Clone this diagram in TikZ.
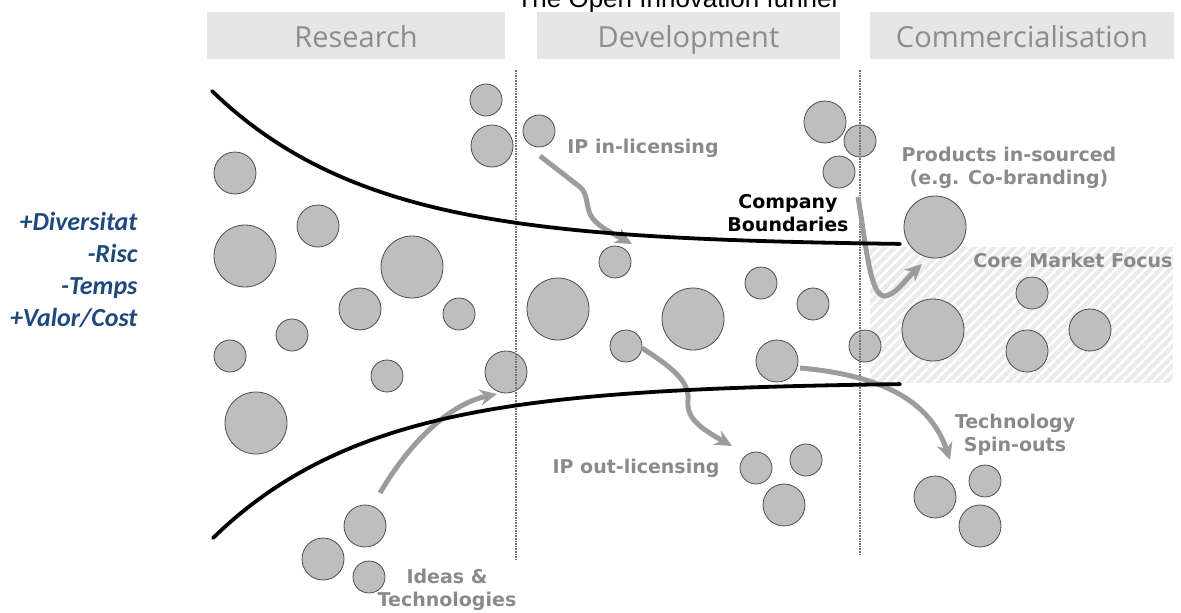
\documentclass[tikz,border=0pt]{standalone}
\usepackage{fontspec}
\setmainfont{DejaVu Sans}
\newfontfamily\headfont{Open Sans}
\newfontfamily\titlefont{Liberation Sans}
\newfontfamily\notefont{Carlito}
\usepackage{xcolor}
\usetikzlibrary{positioning,calc,arrows.meta,patterns.meta}
\definecolor{blobgray}{HTML}{BEBEBE}
\definecolor{labelgray}{HTML}{8A8A8A}
\definecolor{arrowgray}{HTML}{9C9C9C}
\definecolor{headgray}{HTML}{E6E6E6}
\definecolor{noteblue}{HTML}{1F497D}

\begin{document}
\begin{tikzpicture}[x=1pt,y=-1pt,
  blob/.style={circle,fill=blobgray,draw=black!70,line width=0.8pt,inner sep=0pt},
  head/.style={fill=headgray,minimum height=47pt,text height=25pt,text depth=2pt,text=black!45,font=\headfont\fontsize{29}{32}\selectfont},
  lbl/.style={text=labelgray,font=\bfseries\fontsize{19}{23.5}\selectfont,align=center},
  flow/.style={arrowgray,line width=5pt,-{Stealth[length=17pt,width=16pt]}},
  funnel/.style={line width=3.8pt,line cap=round},
  sep/.style={black!55,line width=1.6pt,densely dotted}]
\clip (0,0) rectangle (1181,613);
\node[font=\titlefont\fontsize{26}{26}\selectfont,anchor=base] (title) at (677,7) {The Open Innovation funnel};

\node[head,minimum width=298pt] (research) at (356,35.5) {Research};
\node[head,minimum width=303pt] (development) at (688.5,35.5) {Development};
\node[head,minimum width=304pt] (commercial) at (1022,35.5) {Commercialisation};

\node[font=\notefont\bfseries\itshape\fontsize{26}{32}\selectfont,text=noteblue,align=right,anchor=east] (gains) at (141,270) {+Diversitat\\-Risc\\-Temps\\+Valor/Cost};

% core market
\fill[black!8] (870,247) rectangle (1173,383);
\fill[pattern={Lines[angle=45,distance=7pt,line width=2.5pt]},pattern color=white] (870,247) rectangle (1173,383);

\foreach \x/\y/\r/\n in {486/100/16/r1,492/146/21/r2,235/173/21/r3,245/256/31/r4,318/226/21/r5,
  412/267/31/r6,360/309/21/r7,292/335/16/r8,459/314/16/r9,230/356/16/r10,387/376/16/r11,
  506/372/21/r12,256/423/31/r13,365/526/21/r14,323/559/21/r15,369/577/16/r16}
  \node[blob,minimum size=2*\r pt] (\n) at (\x,\y) {};
\foreach \x/\y/\r/\n in {539/131/16/d1,615/262/16/d2,558/309/31/d3,693/319/31/d4,761/283/16/d5,
  813/304/16/d6,626/346/16/d7,777/361/21/d8,756/468/16/d9,806/460/16/d10,784/505/21/d11,
  825/122/21/d12,860/141/16/d13,839/172/16/d14,865/346/16/d15}
  \node[blob,minimum size=2*\r pt] (\n) at (\x,\y) {};
\foreach \x/\y/\r/\n in {935/227/31/c1,933/330/31/c2,1032/293/16/c3,1027/351/21/c4,
  1090/330/21/c5,935/497/21/c6,985/481/16/c7,980/526/21/c8}
  \node[blob,minimum size=2*\r pt] (\n) at (\x,\y) {};

\draw[sep] (516,70) -- (516,560);
\draw[sep] (860,70) -- (860,555);

\node[lbl] (inlic) at (643,148) {IP in-licensing};
\node[lbl,text=black] (bound) at (788,213) {Company\\Boundaries};
\node[lbl] (insrc) at (1009,168) {Products in-sourced\\(e.g. Co-branding)};
\node[lbl] (core) at (1073,260) {Core Market Focus};
\node[lbl] (outlic) at (636,468) {IP out-licensing};
\node[lbl] (spin) at (1015,435) {Technology\\Spin-outs};
\node[lbl] (ideas) at (447,590) {Ideas \&\\Technologies};

\coordinate (ideaA) at (380,493);
\coordinate (ideaB) at (497,394);
\coordinate (inA) at (540,156);
\coordinate (inB) at (632,244);
\coordinate (outA) at (642,348);
\coordinate (outB) at (732,446);
\coordinate (srcA) at (858,197);
\coordinate (srcB) at (922,264);
\coordinate (spinA) at (800,368);
\coordinate (spinB) at (950,460);

\draw[flow] (ideaA) .. controls (405,450) and (445,405) .. (ideaB);
\draw[flow] (inA) -- (580,187) .. controls (588,194) and (586,205) .. (590,214) .. controls (595,225) and (610,232) .. (inB);
\draw[flow] (outA) .. controls (668,365) and (690,380) .. (688,400) .. controls (686,418) and (700,428) .. (outB);
\draw[flow] (srcA) .. controls (866,245) and (870,295) .. (884,296) .. controls (895,296) and (905,280) .. (srcB);
\draw[flow] (spinA) .. controls (880,375) and (930,400) .. (spinB);

% company boundaries
\draw[funnel] plot[smooth,samples=60,domain=212:900] (\x,{246-155*exp(-(\x-212)/160)});
\draw[funnel] plot[smooth,samples=60,domain=213:900] (\x,{382+156*exp(-(\x-213)/160)});
\end{tikzpicture}
\end{document}
